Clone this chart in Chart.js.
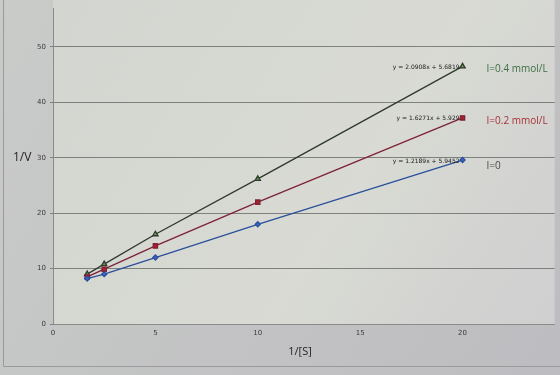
<!DOCTYPE html>
<html>
<head>
<meta charset="utf-8">
<script src="https://cdn.jsdelivr.net/npm/chart.js@4"></script>
<style>
  html, body { margin: 0; padding: 0; background: #c6c7c6; }
  #wrap { width: 560px; height: 375px; }
</style>
</head>
<body>
<div id="wrap"><canvas id="myChart" width="560" height="375"></canvas></div>
<script>
// 1/[S] values and 1/V for each inhibitor level
const invS = [1.67, 2.5, 5, 10, 20];
const seriesI0 = [8.2, 9.0, 12.0, 18.0, 29.6];
const seriesI02 = [8.5, 9.9, 14.1, 22.0, 37.2];
const seriesI04 = [9.0, 10.8, 16.2, 26.2, 46.5];
const seriesNames = ['I=0', 'I=0.2 mmol/L', 'I=0.4 mmol/L'];
const equations = ['y = 1.2189x + 5.9452', 'y = 1.6271x + 5.929', 'y = 2.0908x + 5.6819'];
const yTicks = [0, 10, 20, 30, 40, 50];
const xTicks = [0, 5, 10, 15, 20];

function toPoints(ys) {
    return invS.map((x, i) => ({ x: x, y: ys[i] }));
}

const bgPlugin = {
    id: 'bg',
    beforeDraw(chart) {
        const { ctx, chartArea: a, width, height } = chart;
        ctx.save();
        const g = ctx.createLinearGradient(0, 0, width, height);
        g.addColorStop(0, '#c9cbc9');
        g.addColorStop(1, '#bdbcc0');
        ctx.fillStyle = g;
        ctx.fillRect(0, 0, width, height);
        const g2 = ctx.createLinearGradient(a.left, 0, a.right, a.bottom);
        g2.addColorStop(0, '#d3d5d0');
        g2.addColorStop(0.6, '#d8dad3');
        g2.addColorStop(1, '#cfcfd0');
        ctx.fillStyle = g2;
        ctx.fillRect(a.left, 0, a.right - a.left, a.bottom);
        // outer frame
        ctx.strokeStyle = '#9a9a9c';
        ctx.lineWidth = 1;
        ctx.beginPath();
        ctx.moveTo(3.5, 0);
        ctx.lineTo(3.5, 366.5);
        ctx.lineTo(width, 366.5);
        ctx.stroke();
        ctx.restore();
    }
};

const labelPlugin = {
    id: 'labels',
    afterDatasetsDraw(chart) {
        const { ctx, scales: { x, y } } = chart;
        const last = invS.length - 1;
        const lasts = [seriesI0[last], seriesI02[last], seriesI04[last]];
        const nameColors = ['#4a4a4a', '#a83036', '#3f6e45'];
        ctx.save();
        ctx.textBaseline = 'middle';
        lasts.forEach((v, i) => {
            const px = x.getPixelForValue(invS[last]);
            const py = y.getPixelForValue(v);
            ctx.font = '6px "DejaVu Sans"';
            ctx.fillStyle = '#202020';
            ctx.textAlign = 'right';
            ctx.fillText(equations[i], px - 3, py + 1);
            ctx.font = '10px "Open Sans"';
            ctx.fillStyle = nameColors[i];
            ctx.textAlign = 'left';
            ctx.fillText(seriesNames[i], px + 24, py + (i === 0 ? 6 : 3));
        });
        // axis titles
        ctx.fillStyle = '#1e1e1e';
        ctx.font = '12px "Open Sans"';
        ctx.textAlign = 'left';
        ctx.fillText('1/V', 13, 158);
        ctx.textAlign = 'center';
        ctx.font = '11px "Open Sans"';
        ctx.fillText('1/[S]', 300, 352);
        ctx.restore();
    }
};

const ctx = document.getElementById('myChart').getContext('2d');
const chart = new Chart(ctx, {
    type: 'scatter',
    data: {
        datasets: [
            {
                label: seriesNames[0],
                data: toPoints(seriesI0),
                showLine: true,
                borderColor: '#2b4f9c',
                backgroundColor: '#3a66c4',
                borderWidth: 1.3,
                pointStyle: 'rectRot',
                pointRadius: 2.5
            },
            {
                label: seriesNames[1],
                data: toPoints(seriesI02),
                showLine: true,
                borderColor: '#7e2236',
                backgroundColor: '#b0202a',
                borderWidth: 1.3,
                pointStyle: 'rect',
                pointRadius: 3
            },
            {
                label: seriesNames[2],
                data: toPoints(seriesI04),
                showLine: true,
                borderColor: '#2e3a2c',
                backgroundColor: '#6f9a5e',
                borderWidth: 1.3,
                pointStyle: 'triangle',
                pointRadius: 3
            }
        ]
    },
    options: {
        responsive: false,
        animation: false,
        layout: { padding: 0 },
        plugins: {
            legend: { display: false },
            tooltip: { enabled: false }
        },
        scales: {
            x: {
                type: 'linear',
                min: 0,
                max: 24.5,
                afterFit(scale) { scale.height = 51; },
                afterBuildTicks(scale) {
                    scale.ticks = xTicks.map(v => ({ value: v }));
                },
                grid: { display: false, drawTicks: true, tickLength: 3 },
                border: { color: '#8a8c8a', width: 1 },
                ticks: {
                    color: '#3a3a3a',
                    font: { size: 7, family: 'DejaVu Sans' },
                    padding: 2,
                    maxRotation: 0
                }
            },
            y: {
                type: 'linear',
                min: 0,
                max: 57,
                afterFit(scale) { scale.width = 53; },
                afterBuildTicks(scale) {
                    scale.ticks = yTicks.map(v => ({ value: v }));
                },
                grid: { color: '#7d807c', lineWidth: 1, tickLength: 3 },
                border: { color: '#8a8c8a', width: 1 },
                ticks: {
                    color: '#3a3a3a',
                    font: { size: 7, family: 'DejaVu Sans' },
                    padding: 4
                }
            }
        }
    },
    plugins: [bgPlugin, labelPlugin]
});
</script>
</body>
</html>
